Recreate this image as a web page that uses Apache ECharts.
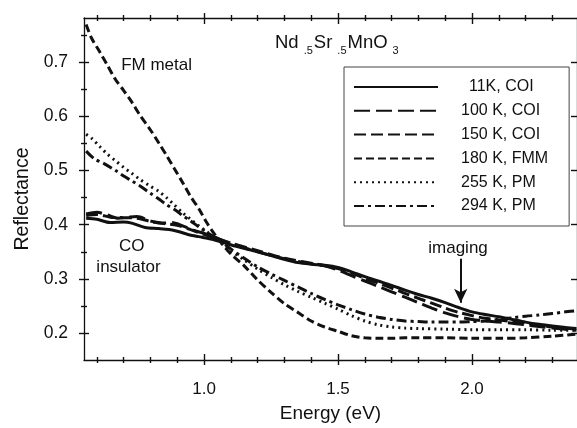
<!DOCTYPE html>
<html>
<head>
<meta charset="utf-8">
<script src="https://cdn.jsdelivr.net/npm/echarts@6/dist/echarts.min.js"></script>
<style>
html,body{margin:0;padding:0;background:#fff;}
#c{width:577px;height:428px;}
</style>
</head>
<body>
<div id="c"></div>
<script>
// ---------- data ----------
const seriesNames = ['11K, COI', '100 K, COI', '150 K, COI', '180 K, FMM', '255 K, PM', '294 K, PM'];

const e11 = [0.56,0.60,0.65,0.70,0.73,0.78,0.83,0.87,0.90,0.94,0.98,1.03,1.08,1.12,1.20,1.25,1.30,1.35,1.40,1.45,1.50,1.55,1.60,1.65,1.70,1.75,1.80,1.85,1.90,1.95,2.00,2.05,2.10,2.15,2.20,2.25,2.30,2.35,2.39];
const r11 = [0.412,0.410,0.404,0.405,0.403,0.395,0.393,0.391,0.388,0.382,0.378,0.373,0.366,0.360,0.350,0.343,0.336,0.330,0.327,0.325,0.321,0.313,0.304,0.296,0.288,0.279,0.271,0.264,0.256,0.247,0.239,0.234,0.230,0.225,0.220,0.216,0.213,0.210,0.208];

const e100 = [0.56,0.60,0.64,0.68,0.72,0.75,0.80,0.85,0.88,0.92,0.96,1.00,1.04,1.08,1.12,1.20,1.30,1.40,1.45,1.50,1.55,1.60,1.65,1.70,1.75,1.80,1.85,1.90,1.95,2.00,2.05,2.10,2.15,2.20,2.25,2.30,2.39];
const r100 = [0.420,0.423,0.418,0.412,0.414,0.415,0.407,0.403,0.404,0.398,0.390,0.384,0.377,0.369,0.362,0.350,0.337,0.328,0.324,0.316,0.306,0.296,0.286,0.276,0.266,0.256,0.246,0.237,0.230,0.225,0.222,0.220,0.218,0.215,0.212,0.209,0.205];

const e150 = [0.56,0.60,0.65,0.70,0.75,0.80,0.85,0.90,0.95,1.00,1.05,1.10,1.20,1.30,1.40,1.50,1.55,1.60,1.65,1.70,1.75,1.80,1.85,1.90,1.95,2.00,2.05,2.10,2.15,2.20,2.25,2.30,2.39];
const r150 = [0.417,0.419,0.414,0.413,0.412,0.406,0.402,0.399,0.391,0.382,0.374,0.366,0.352,0.338,0.329,0.319,0.311,0.301,0.292,0.283,0.273,0.264,0.255,0.246,0.238,0.232,0.227,0.224,0.221,0.218,0.214,0.211,0.207];

const e180 = [0.56,0.58,0.61,0.64,0.67,0.70,0.73,0.76,0.80,0.83,0.86,0.89,0.92,0.95,0.98,1.01,1.04,1.07,1.10,1.15,1.20,1.25,1.30,1.35,1.40,1.45,1.50,1.55,1.60,1.65,1.70,1.75,1.80,1.90,2.00,2.10,2.20,2.30,2.39];
const r180 = [0.770,0.745,0.720,0.694,0.668,0.648,0.627,0.603,0.575,0.552,0.528,0.503,0.478,0.452,0.430,0.404,0.382,0.363,0.346,0.324,0.298,0.275,0.254,0.238,0.222,0.211,0.203,0.195,0.191,0.190,0.190,0.191,0.191,0.191,0.190,0.190,0.191,0.194,0.198];

const e255 = [0.56,0.58,0.61,0.64,0.67,0.70,0.73,0.76,0.80,0.83,0.86,0.89,0.92,0.95,0.98,1.01,1.04,1.07,1.10,1.15,1.20,1.25,1.30,1.35,1.40,1.45,1.50,1.55,1.60,1.65,1.70,1.75,1.80,1.90,2.00,2.10,2.20,2.30,2.39];
const r255 = [0.567,0.560,0.545,0.530,0.518,0.506,0.495,0.484,0.471,0.462,0.450,0.436,0.422,0.410,0.398,0.387,0.376,0.364,0.352,0.335,0.318,0.303,0.289,0.277,0.266,0.255,0.244,0.232,0.222,0.215,0.211,0.209,0.208,0.207,0.206,0.206,0.206,0.205,0.205];

const e294 = [0.56,0.59,0.63,0.67,0.70,0.73,0.76,0.80,0.83,0.86,0.89,0.92,0.95,0.98,1.01,1.04,1.07,1.10,1.15,1.20,1.25,1.30,1.35,1.40,1.45,1.50,1.55,1.60,1.65,1.70,1.75,1.80,1.85,1.90,1.95,2.00,2.05,2.10,2.15,2.20,2.25,2.30,2.35,2.39];
const r294 = [0.536,0.522,0.512,0.500,0.490,0.481,0.472,0.458,0.448,0.437,0.428,0.417,0.407,0.396,0.386,0.377,0.367,0.355,0.338,0.322,0.309,0.297,0.285,0.273,0.262,0.252,0.243,0.235,0.229,0.225,0.222,0.221,0.220,0.220,0.220,0.221,0.222,0.225,0.228,0.231,0.233,0.236,0.239,0.241];

const xMajorTicks = [1.0, 1.5, 2.0];
const xMinorTicks = [0.6,0.7,0.8,0.9,1.1,1.2,1.3,1.4,1.6,1.7,1.8,1.9,2.1,2.2,2.3];
const yMajorTicks = [0.2, 0.3, 0.4, 0.5, 0.6, 0.7];
const yMinorTicks = [0.25, 0.35, 0.45, 0.55, 0.65, 0.75];

const annoText = ['FM metal', 'CO', 'insulator', 'imaging'];
const annoE = [0.823, 0.730, 0.718, 1.948];
const annoR = [0.694, 0.361, 0.321, 0.357];
const arrowE = 1.958, arrowFromR = 0.337, arrowToR = 0.256;

// ---------- styling ----------
const X_MIN = 0.552, X_MAX = 2.392, Y_MIN = 0.15, Y_MAX = 0.782;
const FONT = 'Liberation Sans, Arial, sans-serif';
const INK = '#111';
const dashTypes = ['solid', [16, 6], [12, 5], [8, 4], [2, 4], [10, 4, 3, 4]];

function zip(xs, ys) { return xs.map((x, i) => [x, ys[i]]); }
const allE = [e11, e100, e150, e180, e255, e294];
const allR = [r11, r100, r150, r180, r255, r294];

const axLine = { color: INK, width: 1.3 };
const tkLine = { color: INK, width: 1.4 };

function xAx(pos, vals, len, inside, main) {
  return {
    type: 'value', min: X_MIN, max: X_MAX, position: pos, gridIndex: 0,
    axisLine: { show: !!main, lineStyle: axLine },
    axisTick: { show: true, inside: inside, length: len, customValues: vals, lineStyle: tkLine },
    axisLabel: main === 'label' ? {
      show: true, customValues: xMajorTicks, margin: 21,
      formatter: v => v.toFixed(1), fontSize: 17, fontFamily: FONT, color: INK
    } : { show: false },
    splitLine: { show: false },
    name: main === 'label' ? 'Energy (eV)' : '',
    nameLocation: 'middle', nameGap: 44,
    nameTextStyle: { fontSize: 19, fontFamily: FONT, color: INK }
  };
}
function yAx(pos, vals, len, inside, main) {
  return {
    type: 'value', min: Y_MIN, max: Y_MAX, position: pos, gridIndex: 0,
    axisLine: { show: !!main, lineStyle: axLine },
    axisTick: { show: true, inside: inside, length: len, customValues: vals, lineStyle: tkLine },
    axisLabel: main === 'label' ? {
      show: true, customValues: yMajorTicks, margin: 16,
      formatter: v => v.toFixed(1), fontSize: 17.5, fontFamily: FONT, color: INK
    } : { show: false },
    splitLine: { show: false },
    name: main === 'label' ? 'Reflectance' : '',
    nameLocation: 'middle', nameGap: 51,
    nameTextStyle: { fontSize: 19.5, fontFamily: FONT, color: INK, padding: [0, 20, 0, 0] }
  };
}

const xAxes = [
  xAx('bottom', xMajorTicks, 5, false, 'label'),
  xAx('bottom', xMajorTicks, 6, true),
  xAx('bottom', xMinorTicks, 3, false),
  xAx('bottom', xMinorTicks, 3, true),
  xAx('top', xMajorTicks, 5, false, true),
  xAx('top', xMajorTicks, 6, true),
  xAx('top', xMinorTicks, 3, false),
  xAx('top', xMinorTicks, 3, true)
];
const yAxes = [
  yAx('left', yMajorTicks, 5, false, 'label'),
  yAx('left', yMajorTicks, 5, true),
  yAx('left', yMinorTicks, 3, false),
  yAx('left', yMinorTicks, 3, true),
  yAx('right', yMajorTicks, 6, true, true)
];

const lineSeries = seriesNames.map((n, i) => ({
  name: n, type: 'line', xAxisIndex: 0, yAxisIndex: 0,
  data: zip(allE[i], allR[i]),
  showSymbol: false, symbol: 'none', smooth: 0.3,
  lineStyle: { color: INK, width: 3, type: dashTypes[i], cap: 'butt' },
  itemStyle: { color: INK },
  z: 3
}));

const annoSeries = {
  name: 'annotations', type: 'scatter', xAxisIndex: 0, yAxisIndex: 0,
  symbolSize: 0, silent: true,
  itemStyle: { opacity: 1, color: INK },
  data: annoText.map((t, i) => ({ value: [annoE[i], annoR[i]], name: t })),
  label: {
    show: true, position: 'inside', formatter: p => p.name,
    fontSize: 17, fontFamily: FONT, color: INK, opacity: 1
  },
  markLine: {
    silent: true, symbol: ['none', 'arrow'], symbolSize: [10, 14],
    label: { show: false },
    lineStyle: { color: INK, width: 2, type: 'solid', opacity: 1 },
    data: [[{ coord: [arrowE, arrowFromR] }, { coord: [arrowE, arrowToR] }]]
  }
};

const chart = echarts.init(document.getElementById('c'), null, { renderer: 'canvas' });
chart.setOption({
  animation: false,
  backgroundColor: '#fff',
  title: {
    left: 270, top: 28,
    text: '{a|Nd}{s|.5}{a|Sr}{s|.5}{a|MnO}{s|3}',
    textStyle: {
      rich: {
        a: { fontSize: 18.5, fontFamily: FONT, color: INK, fontWeight: 'normal', verticalAlign: 'top', lineHeight: 22 },
        s: { fontSize: 11, fontFamily: FONT, color: INK, fontWeight: 'normal', verticalAlign: 'top', lineHeight: 22, padding: [12, 1, 0, 5] }
      }
    }
  },
  grid: { left: 84, top: 18, width: 493, height: 348, containLabel: false },
  legend: {
    data: seriesNames,
    orient: 'vertical', left: 344, top: 67,
    padding: [11, 21, 11, 9],
    borderColor: '#444', borderWidth: 1,
    itemWidth: 84, itemHeight: 18, itemGap: 5.8,
    itemStyle: { opacity: 0, borderWidth: 0 },
    formatter: n => n === '11K, COI' ? '{i|' + n + '}' : n,
    textStyle: {
      fontSize: 16, fontFamily: FONT, color: INK, padding: [0, 0, 0, 18], lineHeight: 18,
      rich: { i: { fontSize: 16, fontFamily: FONT, color: INK, padding: [0, 0, 0, 8] } }
    },
    selectedMode: false
  },
  xAxis: xAxes,
  yAxis: yAxes,
  series: lineSeries.concat([annoSeries])
});
</script>
</body>
</html>
